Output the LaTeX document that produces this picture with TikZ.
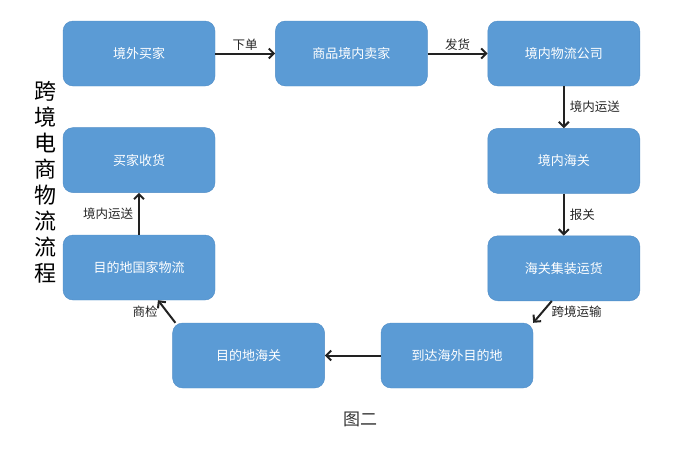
\documentclass[tikz,border=0pt]{standalone}
\usepackage{fontspec}
\newfontfamily\cjk{Noto Sans CJK SC}
\usetikzlibrary{positioning,arrows.meta}

\definecolor{boxblue}{HTML}{5B9BD5}
\definecolor{boxline}{HTML}{4F8CC6}
\definecolor{arrowgray}{HTML}{222222}

\begin{document}
\begin{tikzpicture}[%
    x=1pt, y=-1pt,
    font=\cjk,
    stage/.style={
        draw=boxline,
        fill=boxblue,
        rounded corners=10pt,
        minimum width=152pt,
        minimum height=65pt,
        text=white,
        font=\cjk\fontsize{13}{15}\selectfont
        },
    flow/.style={
        -{Straight Barb[length=5pt,width=10pt]},
        draw=arrowgray,
        line width=2pt
        },
    steplabel/.style={
        font=\cjk\fontsize{12.5}{14}\selectfont,
        text=black!85,
        inner sep=2pt
        }
]

\useasboundingbox (0,0) rectangle (680,448);

% top row
\node[stage] (buyer) at (139,53.5) {境外买家};
\node[stage, right=60pt of buyer] (seller) {商品境内卖家};
\node[stage, right=60pt of seller] (logistics) {境内物流公司};

% right column
\node[stage, below=42pt of logistics] (customs) {境内海关};
\node[stage, below=42pt of customs] (packing) {海关集装运货};

% bottom row
\node[stage] (arrive) at (457,355.5) {到达海外目的地};
\node[stage, left=56pt of arrive] (destcustoms) {目的地海关};

% left column
\node[stage] (destlog) at (139,267.5) {目的地国家物流};
\node[stage, above=42pt of destlog] (receive) {买家收货};

\draw[flow] (buyer) -- node[steplabel, above] {下单} (seller);
\draw[flow] (seller) -- node[steplabel, above] {发货} (logistics);
\draw[flow] (logistics) -- node[steplabel, right=3pt] {境内运送} (customs);
\draw[flow] (customs) -- node[steplabel, right=3pt] {报关} (packing);
\draw[flow] (packing.south) ++(-12pt,0) coordinate (p0) -- node[steplabel, right=6pt] {跨境运输} (arrive.north east);
\draw[flow] (arrive) -- (destcustoms);
\draw[flow] (destcustoms.north west) ++(3pt,0) coordinate (d0) -- node[steplabel, left=6pt] {商检} ([xshift=19pt]destlog.south);
\draw[flow] (destlog) -- node[steplabel, left=3pt] {境内运送} (receive);

% vertical title
\node[font=\cjk\fontsize{22}{26}\selectfont, align=center] (title) at (45,182)
    {跨\\境\\电\\商\\物\\流\\流\\程};

\node[font=\cjk\fontsize{17}{20}\selectfont, text=black!80] (caption) at (360,419.5) {图二};

\end{tikzpicture}
\end{document}
